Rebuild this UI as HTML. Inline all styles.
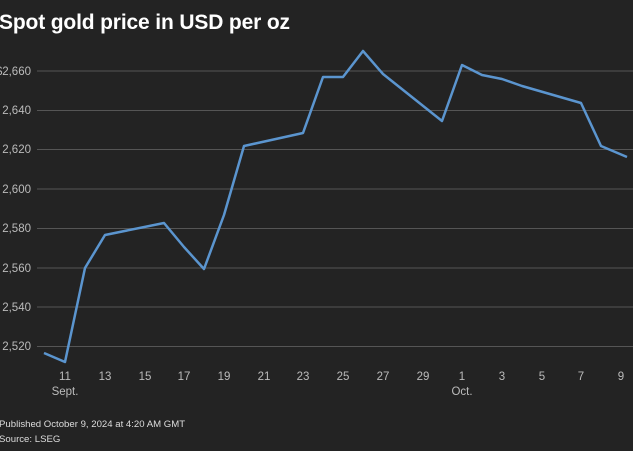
<!DOCTYPE html>
<html><head><meta charset="utf-8"><style>
body{margin:0;background:#232323;width:633px;height:446px;overflow:hidden;font-family:"Liberation Sans",sans-serif}
</style></head><body>
<svg width="633" height="446" xmlns="http://www.w3.org/2000/svg">
<rect width="633" height="446" fill="#232323"/>
<text x="-1" y="29" fill="#fff" font-size="21" font-weight="bold" textLength="291" font-family="Liberation Sans,sans-serif">Spot gold price in USD per oz</text>
<g stroke="#555" stroke-width="1">
<line x1="37" x2="633" y1="71" y2="71"/><line x1="37" x2="633" y1="110.5" y2="110.5"/>
<line x1="37" x2="633" y1="149.5" y2="149.5"/><line x1="37" x2="633" y1="189" y2="189"/>
<line x1="37" x2="633" y1="228.5" y2="228.5"/><line x1="37" x2="633" y1="268" y2="268"/>
<line x1="37" x2="633" y1="307" y2="307"/><line x1="37" x2="633" y1="346.5" y2="346.5"/>
</g>
<g fill="#bbb" font-size="11.5" text-anchor="end" font-family="Liberation Sans,sans-serif">
<text x="31" y="75">$2,660</text><text x="31" y="114">2,640</text><text x="31" y="153">2,620</text>
<text x="31" y="193">2,600</text><text x="31" y="232">2,580</text><text x="31" y="272">2,560</text>
<text x="31" y="311">2,540</text><text x="31" y="350">2,520</text>
</g>
<g fill="#bbb" font-size="11.5" text-anchor="middle" font-family="Liberation Sans,sans-serif">
<text x="65" y="380">11</text><text x="105" y="380">13</text><text x="145" y="380">15</text>
<text x="184" y="380">17</text><text x="224" y="380">19</text><text x="264" y="380">21</text>
<text x="303" y="380">23</text><text x="343" y="380">25</text><text x="383" y="380">27</text>
<text x="423" y="380">29</text><text x="462" y="380">1</text><text x="502" y="380">3</text>
<text x="542" y="380">5</text><text x="581" y="380">7</text><text x="621" y="380">9</text>
<text x="65" y="395">Sept.</text><text x="462" y="395">Oct.</text>
</g>
<polyline fill="none" stroke="#5b95cf" stroke-width="2.5" stroke-linejoin="round"
points="44,353 65,362 85,268 105,235 164,223 184,247 204,269 224,215 244,146 303,133 323,77 343,77 363,51 383,74 442,121 462,65 482,75 502,79 522,86 581,103 601,146 627,157"/>
<g fill="#ddd" font-size="9.6" font-family="Liberation Sans,sans-serif">
<text x="-1" y="427">Published October 9, 2024 at 4:20 AM GMT</text>
<text x="-1" y="442">Source: LSEG</text>
</g>
</svg>
</body></html>
